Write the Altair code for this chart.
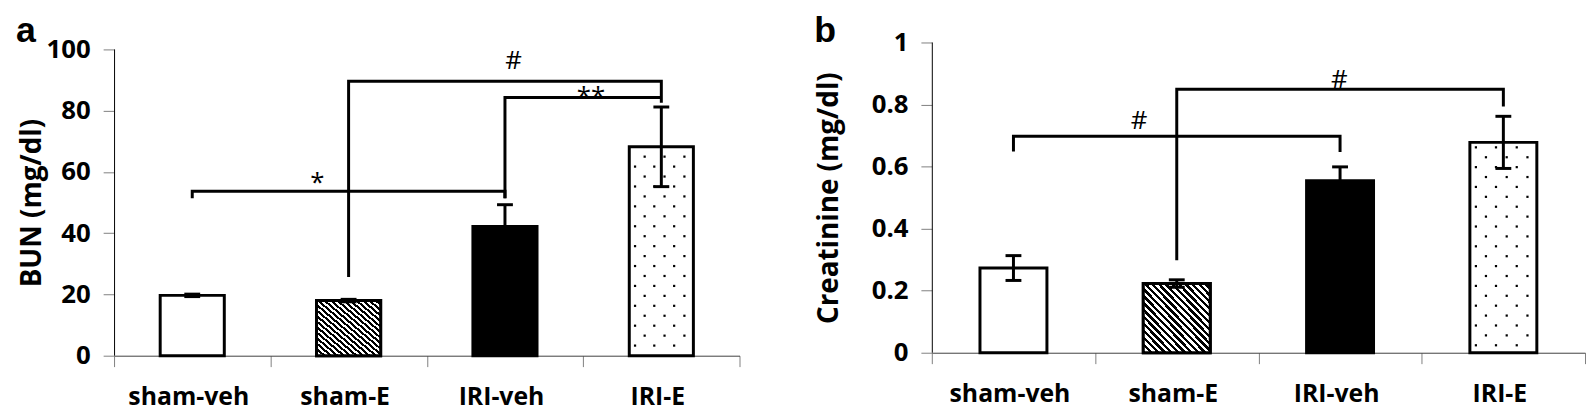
import altair as alt
import pandas as pd
import numpy as np

# ---------------- data ----------------
groups = ["sham-veh", "sham-E", "IRI-veh", "IRI-E"]

bun_mean = [19.7, 18.0, 42.2, 68.2]
bun_err = [0.4, 0.4, 7.1, 13.0]
cre_mean = [0.273, 0.223, 0.554, 0.678]
cre_err = [0.040, 0.012, 0.045, 0.084]

bun_ticks = [0, 20, 40, 60, 80, 100]
cre_ticks = [0, 0.2, 0.4, 0.6, 0.8, 1]
bun_axis_top = 100
cre_axis_top = 1

# significance brackets (group-index units: 0.5 = centre of first group)
bun_br_id = [1, 1, 1, 1, 2, 2, 2, 2, 3, 3, 3]
bun_br_x = [0.5, 0.5, 2.5, 2.5, 1.5, 1.5, 3.5, 3.5, 2.5, 2.5, 3.5]
bun_br_y = [51.4, 53.7, 53.7, 51.4, 25.7, 89.6, 89.6, 82.6, 51.4, 84.3, 84.3]
cre_br_id = [1, 1, 1, 1, 2, 2, 2, 2]
cre_br_x = [0.5, 0.5, 2.5, 2.5, 1.5, 1.5, 3.5, 3.5]
cre_br_y = [0.649, 0.698, 0.698, 0.647, 0.298, 0.849, 0.849, 0.794]

bun_sig_text = ["*", "#", "**"]
bun_sig_x = [1.30, 2.555, 3.05]
bun_sig_y = [53.7, 93.6, 81.9]
cre_sig_text = ["#", "#"]
cre_sig_x = [1.27, 2.495]
cre_sig_y = [0.720, 0.852]

BAR_FRAC = 0.41
FONT = "Open Sans"

# stripe fill for sham-E
N_STRIPES = 20
stops = []
for k in range(N_STRIPES):
    stops += [
        alt.GradientStop(offset=k / N_STRIPES, color="black"),
        alt.GradientStop(offset=(k + 0.5) / N_STRIPES, color="black"),
        alt.GradientStop(offset=(k + 0.5) / N_STRIPES, color="white"),
        alt.GradientStop(offset=(k + 1) / N_STRIPES, color="white"),
    ]
stripes = alt.LinearGradient(gradient="linear", stops=stops, x1=0, y1=1, x2=1, y2=0)

dot_fr_even = [0.09, 0.39, 0.70]
dot_fr_odd = [0.24, 0.55, 0.86]


def dot_grid(mean_val, start, step, ymax):
    xs, ys = [], []
    y, k = start, 0
    while y < mean_val - 0.01 * ymax:
        fr = dot_fr_even if k % 2 == 0 else dot_fr_odd
        for f in fr:
            xs.append(3 + (1 - BAR_FRAC) / 2 + f * BAR_FRAC)
            ys.append(y)
        y += step
        k += 1
    return pd.DataFrame({"x": xs, "y": ys})


def panel(mean, err, ticks, ytitle, axis_top, W, H, top_pad, br_id, br_x, br_y,
          sig_t, sig_x, sig_y, letter, letter_x, title_pad,
          dot_start, dot_step):
    df = pd.DataFrame({
        "group": groups,
        "idx": [i + 0.5 for i in range(len(groups))],
        "mean": mean,
        "lo": [m - e for m, e in zip(mean, err)],
        "hi": [m + e for m, e in zip(mean, err)],
    })
    Htot = H + top_pad
    ymax = axis_top * Htot / H
    yscale = alt.Scale(domain=[0, ymax], nice=False, zero=True)
    xq = alt.Scale(domain=[0, 4], nice=False, zero=False)
    xband = alt.Scale(domain=groups, paddingInner=0, paddingOuter=0)

    bars = alt.Chart(df).mark_bar(
        stroke="black", strokeWidth=3, width=alt.RelativeBandSize(BAR_FRAC)
    ).encode(
        x=alt.X("group:N", sort=groups, scale=xband,
                axis=alt.Axis(title=None, labelAngle=0, tickBand="extent",
                              tickSize=11, tickColor="#808080",
                              domainColor="#404040", domainWidth=1,
                              labelFont=FONT, labelFontWeight="bold",
                              labelFontSize=25, labelColor="black",
                              labelPadding=18, labelOffset=-4)),
        y=alt.Y("mean:Q", scale=yscale,
                axis=alt.Axis(title=ytitle, values=ticks, format="~r",
                              tickSize=11, tickColor="#808080",
                              domain=False, grid=False,
                              labelFont=FONT, labelFontWeight="bold",
                              labelFontSize=26, labelColor="black",
                              labelPadding=13, titleFont=FONT,
                              titleFontWeight="bold", titleFontSize=28,
                              titleColor="black", titlePadding=title_pad,
                              titleY=H / 2 + top_pad)),
        fill=alt.Fill("group:N", scale=alt.Scale(domain=groups,
                      range=["white", "white", "black", "white"]), legend=None),
    )

    yaxis_line = alt.Chart(pd.DataFrame({"y0": [0], "y1": [axis_top]})).mark_rule(
        color="black", strokeWidth=1
    ).encode(
        x=alt.value(0.5),
        y=alt.Y("y0:Q", scale=yscale, axis=None),
        y2="y1:Q",
    )

    striped = alt.Chart(df).transform_filter(
        alt.datum.group == "sham-E"
    ).mark_bar(
        fill=stripes, stroke="black", strokeWidth=3,
        width=alt.RelativeBandSize(BAR_FRAC)
    ).encode(
        x=alt.X("group:N", sort=groups, scale=xband, axis=None),
        y=alt.Y("mean:Q", scale=yscale, axis=None),
    )

    dots = alt.Chart(dot_grid(mean[3], dot_start, dot_step, axis_top)).mark_square(
        size=5, color="black", opacity=1
    ).encode(
        x=alt.X("x:Q", scale=xq, axis=None),
        y=alt.Y("y:Q", scale=yscale, axis=None),
    )

    ebar = alt.Chart(df).mark_rule(color="black", strokeWidth=3).encode(
        x=alt.X("idx:Q", scale=xq, axis=None),
        y=alt.Y("lo:Q", scale=yscale, axis=None),
        y2="hi:Q",
    )
    cap_lo = alt.Chart(df).mark_tick(color="black", size=16, thickness=3,
                                     orient="horizontal", opacity=1).encode(
        x=alt.X("idx:Q", scale=xq, axis=None),
        y=alt.Y("lo:Q", scale=yscale, axis=None),
    )
    cap_hi = alt.Chart(df).mark_tick(color="black", size=16, thickness=3,
                                     orient="horizontal", opacity=1).encode(
        x=alt.X("idx:Q", scale=xq, axis=None),
        y=alt.Y("hi:Q", scale=yscale, axis=None),
    )

    bdf = pd.DataFrame({"id": br_id, "x": br_x, "y": br_y,
                        "o": list(range(len(br_x)))})
    brackets = alt.Chart(bdf).mark_line(color="black", strokeWidth=3,
                                        strokeJoin="miter").encode(
        x=alt.X("x:Q", scale=xq, axis=None),
        y=alt.Y("y:Q", scale=yscale, axis=None),
        detail="id:N",
        order="o:Q",
    )

    sdf = pd.DataFrame({"t": sig_t, "x": sig_x, "y": sig_y})
    sig = alt.Chart(sdf).mark_text(font=FONT, fontSize=26, color="black",
                                   baseline="alphabetic", align="center").encode(
        x=alt.X("x:Q", scale=xq, axis=None),
        y=alt.Y("y:Q", scale=yscale, axis=None),
        text="t:N",
    )

    lab = alt.Chart(pd.DataFrame({"t": [letter]})).mark_text(
        font="Liberation Sans", fontWeight="bold", fontSize=36, color="black",
        align="left", baseline="alphabetic"
    ).encode(text="t:N", x=alt.value(letter_x), y=alt.value(0))

    return alt.layer(bars, yaxis_line, striped, dots, ebar, cap_lo, cap_hi,
                     brackets, sig, lab).resolve_scale(
        x="independent", y="independent").properties(width=W, height=Htot)


pa = panel(bun_mean, bun_err, bun_ticks, "BUN (mg/dl)", bun_axis_top, 631, 309, 7,
           bun_br_id, bun_br_x, bun_br_y, bun_sig_text, bun_sig_x, bun_sig_y,
           "a", -99, 0, 3.3, 3.247)
pb = panel(cre_mean, cre_err, cre_ticks, "Creatinine (mg/dl)", cre_axis_top, 659, 313, 0,
           cre_br_id, cre_br_x, cre_br_y, cre_sig_text, cre_sig_x, cre_sig_y,
           "b", -118.7, 28, 0.024, 0.0319)

chart = alt.hconcat(pa, pb, spacing=74).properties(
    padding={"left": 8, "top": 4, "right": 0, "bottom": 0}
).configure_view(stroke=None)

chart.save("out.html", embed_options={"renderer": "svg", "actions": False})
